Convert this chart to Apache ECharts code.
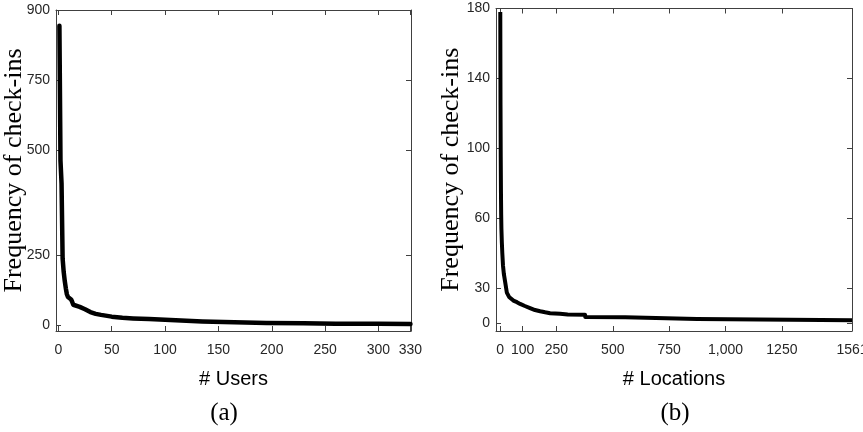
<!DOCTYPE html>
<html>
<head>
<meta charset="utf-8">
<script src="https://cdn.jsdelivr.net/npm/echarts@6/dist/echarts.min.js"></script>
<style>
  html, body { margin: 0; padding: 0; background: #fff; }
  #chart { width: 863px; height: 432px; }
</style>
</head>
<body>
<div id="chart"></div>
<script>
// (a) check-ins per user, users sorted by activity
const userRank     = [1, 2, 3, 4, 5, 6, 7, 8, 9, 10, 12, 13, 14, 15, 20, 25, 30, 35, 40, 50, 60, 70, 85, 100, 120, 135, 165, 195, 230, 260, 300, 330];
const userCheckins = [855, 470, 405, 190, 152, 126, 105, 88, 80, 77, 73, 66, 58, 55, 52, 45, 37, 32, 29, 24, 21, 19, 17, 15, 12, 10, 8, 6, 5, 4, 3.5, 3];

// (b) check-ins per location, locations sorted by popularity
const locRank     = [1, 2, 3, 4, 5, 6, 8, 10, 13, 17, 22, 30, 40, 59, 75, 89, 110, 133, 155, 178, 200, 222, 266, 300, 377, 378, 555, 556, 873, 874, 1561];
const locCheckins = [178, 125, 95, 75, 62, 54, 46, 40, 33, 28, 24, 17.5, 15, 12.9, 12, 11, 9.8, 8.6, 7.5, 6.8, 6.2, 5.7, 5.3, 5, 4.8, 3.5, 3.3, 2.5, 2.4, 1.6, 1.6];

// axis ticks: where each tick sits, and the text printed at it
const userTickValues = [0, 50, 100, 150, 200, 250, 300, 330];
const userTickLabels = ['0', '50', '100', '150', '200', '250', '300', '330'];
const userFreqTickValues = [0, 200, 500, 700, 900];
const userFreqTickLabels = ['0', '250', '500', '750', '900'];

const locTickValues = [0, 100, 250, 500, 750, 1000, 1250, 1561];
const locTickLabels = ['0', '100', '250', '500', '750', '1,000', '1250', '1561'];
const locFreqTickValues = [0, 20, 60, 100, 140, 180];
const locFreqTickLabels = ['0', '30', '60', '100', '140', '180'];

const AXIS_COLOR = '#404040';
const TEXT_COLOR = '#262626';
const SANS = '"Liberation Sans", Arial, sans-serif';
const SERIF = '"Liberation Serif", "DejaVu Serif", serif';

function labelFor(values, labels) {
  return function (v) {
    for (let i = 0; i < values.length; i++) {
      if (Math.abs(values[i] - v) < 1e-6) return labels[i];
    }
    return '';
  };
}

// one boxed axis pair: labelled bottom/left, mirrored ticks on top/right
function makeAxes(gridIndex, xr, yr, xTicks, xLabels, yTicks, yLabels, xName, yName, yNameGap) {
  const tick = (vals) => ({ show: true, inside: true, length: 5, customValues: vals,
                            lineStyle: { color: AXIS_COLOR, width: 1 } });
  const line = { show: true, onZero: false, lineStyle: { color: AXIS_COLOR, width: 1 } };
  const xAxes = [
    {
      type: 'value', gridIndex, position: 'bottom', min: xr[0], max: xr[1],
      axisLine: line, axisTick: tick(xTicks), splitLine: { show: false },
      axisLabel: { show: true, customValues: xTicks, formatter: labelFor(xTicks, xLabels),
                   margin: 12, color: TEXT_COLOR, fontFamily: SANS, fontSize: 14 },
      name: xName, nameLocation: 'middle', nameGap: 38, nameMoveOverlap: false,
      nameTextStyle: { color: '#000', fontFamily: SANS, fontSize: 20 }
    },
    {
      type: 'value', gridIndex, position: 'top', min: xr[0], max: xr[1],
      axisLine: line, axisTick: tick(xTicks), axisLabel: { show: false }, splitLine: { show: false }
    }
  ];
  const yAxes = [
    {
      type: 'value', gridIndex, position: 'left', min: yr[0], max: yr[1],
      axisLine: line, axisTick: tick(yTicks), splitLine: { show: false },
      axisLabel: { show: true, customValues: yTicks, formatter: labelFor(yTicks, yLabels),
                   margin: 6, color: TEXT_COLOR, fontFamily: SANS, fontSize: 14 },
      name: yName, nameLocation: 'middle', nameGap: yNameGap, nameRotate: 90,
      nameMoveOverlap: false,
      nameTextStyle: { color: '#000', fontFamily: SERIF, fontSize: 26 }
    },
    {
      type: 'value', gridIndex, position: 'right', min: yr[0], max: yr[1],
      axisLine: line, axisTick: tick(yTicks), axisLabel: { show: false }, splitLine: { show: false }
    }
  ];
  return { xAxes, yAxes };
}

const a = makeAxes(0, [-2.2, 330.5], [-17, 900], userTickValues, userTickLabels,
                   userFreqTickValues, userFreqTickLabels, '# Users', 'Frequency of check-ins', 29);
const b = makeAxes(1, [-18, 1561], [-4.5, 180], locTickValues, locTickLabels,
                   locFreqTickValues, locFreqTickLabels, '# Locations', 'Frequency of check-ins', 32);

const chart = echarts.init(document.getElementById('chart'), null, { renderer: 'canvas' });
chart.setOption({
  animation: false,
  backgroundColor: '#fff',
  grid: [
    { left: 56, top: 10, width: 355, height: 321, containLabel: false, outerBoundsMode: 'none' },
    { left: 496, top: 8.5, width: 356, height: 322.5, containLabel: false, outerBoundsMode: 'none' }
  ],
  xAxis: [...a.xAxes, ...b.xAxes],
  yAxis: [...a.yAxes, ...b.yAxes],
  series: [
    {
      type: 'line', xAxisIndex: 0, yAxisIndex: 0,
      data: userRank.map((r, i) => [r, userCheckins[i]]),
      showSymbol: false, smooth: false, clip: true,
      lineStyle: { color: '#000', width: 4.5, join: 'round', cap: 'round' }
    },
    {
      type: 'line', xAxisIndex: 2, yAxisIndex: 2,
      data: locRank.map((r, i) => [r, locCheckins[i]]),
      showSymbol: false, smooth: false, clip: true,
      lineStyle: { color: '#000', width: 4, join: 'round', cap: 'butt' }
    }
  ],
  graphic: [
    { type: 'text', x: 224, y: 413, style: { text: '(a)', fill: '#000', font: '25px ' + SERIF,
      align: 'center', verticalAlign: 'middle' } },
    { type: 'text', x: 675, y: 413, style: { text: '(b)', fill: '#000', font: '25px ' + SERIF,
      align: 'center', verticalAlign: 'middle' } }
  ]
});
</script>
</body>
</html>
